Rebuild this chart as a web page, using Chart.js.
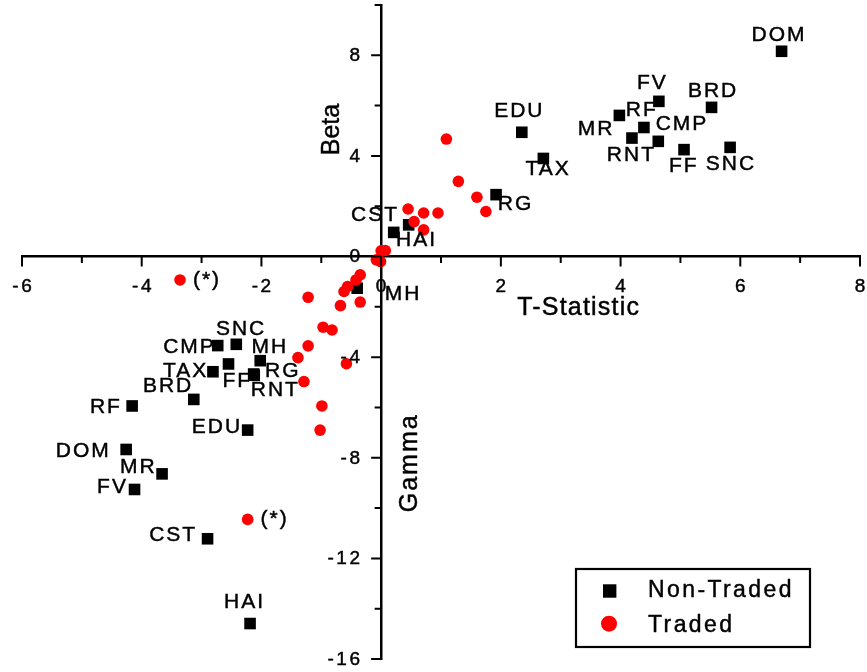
<!DOCTYPE html>
<html>
<head>
<meta charset="utf-8">
<script src="https://cdn.jsdelivr.net/npm/chart.js@4.4.1/dist/chart.umd.min.js"></script>
<style>
html,body{margin:0;padding:0;background:#ffffff;}
#wrap{width:867px;height:672px;position:relative;}
</style>
</head>
<body>
<div id="wrap"><canvas id="c"></canvas></div>
<script>
// ---------------- DATA ----------------
const seriesNames = ['Non-Traded', 'Traded'];

// Non-traded sectors: Beta vs T-statistic
const betaNames  = ['DOM','FV','BRD','EDU','MR','RF','CMP','RNT','FF','SNC','TAX','RG','CST','HAI','MH'];
const betaT      = [6.69, 4.64, 5.52, 2.35, 3.98, 4.39, 4.63, 4.19, 5.06, 5.83, 2.71, 1.92, 0.21, 0.46, -0.40];
const betaValues = [8.16, 6.17, 5.93, 4.94, 5.61, 5.13, 4.58, 4.71, 4.25, 4.34, 3.90, 2.46, 0.96, 1.26, -1.26];

// Non-traded sectors: Gamma vs T-statistic
const gammaNames  = ['CMP','SNC','MH','TAX','FF','RG','RNT','BRD','RF','EDU','DOM','MR','FV','CST','HAI'];
const gammaT      = [-2.73, -2.42, -2.02, -2.81, -2.55, -2.13, -2.12, -3.13, -4.16, -2.23, -4.26, -3.66, -4.12, -2.90, -2.19];
const gammaValues = [-3.54, -3.49, -4.14, -4.58, -4.27, -4.67, -4.72, -5.68, -5.94, -6.90, -7.67, -8.64, -9.26, -11.22, -14.59];

// Traded sectors (beta and gamma estimates)
const tradedT      = [1.09, 1.29, 1.60, 1.75, 0.45, 0.71, 0.95, 0.55, 0.71, 0.00, 0.07, -0.08, -0.01,
                      -0.35, -0.42, -0.56, -0.62, -1.22, -0.68, -0.35, -0.97, -0.82, -1.22, -1.39, -0.58, -1.29, -0.99, -1.02, -3.36, -2.23];
const tradedValues = [4.67, 2.99, 2.36, 1.79, 1.89, 1.73, 1.73, 1.39, 1.06, 0.23, 0.24, -0.13, -0.20,
                      -0.73, -0.93, -1.19, -1.39, -1.62, -1.95, -1.81, -2.81, -2.92, -3.55, -4.02, -4.26, -4.97, -5.94, -6.90, -0.93, -10.45];
const tradedNotes  = ['', '', '', '', '', '', '', '', '', '', '', '', '',
                      '', '', '', '', '', '', '', '', '', '', '', '', '', '', '', '(*)', '(*)'];

const xTickLabels = [-6, -4, -2, 0, 2, 4, 6, 8];
const yTickLabels = [-16, -12, -8, -4, 0, 4, 8];
const xTitle = 'T-Statistic';
const betaTitle = 'Beta';
const gammaTitle = 'Gamma';

// ---------------- STYLE ----------------
const FONT = '"Liberation Sans", Arial, Helvetica, sans-serif';
// label offsets (pixels from marker centre to label centre)
const betaLabelOffsets = [[-3.5,-16],[-7.5,-18.4],[0.5,-16.2],[-3.5,-21.2],[-24.2,13.5],[-3.2,-16.9],[22.7,-16.7],[-1.5,16.9],[-1.2,16.7],[-0.2,17],[3.7,10.5],[18.5,9.8],[-19.7,-17.2],[6.9,15.5],[44.8,6.2]];
const gammaLabelOffsets = [[-29.2,1.5],[3.8,-15.1],[8.5,-13.5],[-28.4,-0.9],[7.7,17.2],[28.1,-3.2],[20.1,15.2],[-26.7,-13.1],[-27.2,0.8],[-31.7,-2.8],[-43.8,1.7],[-24.8,-6.9],[-23,-2.1],[-35.4,-3.5],[-6.5,-21.5]];
const noteOffset = [27, 0];

const nonTradedData = betaT.map((x, i) => ({x: x, y: betaValues[i]}))
  .concat(gammaT.map((x, i) => ({x: x, y: gammaValues[i]})));
const nonTradedLabels = betaNames.concat(gammaNames);
const nonTradedOffsets = betaLabelOffsets.concat(gammaLabelOffsets);
const tradedData = tradedT.map((x, i) => ({x: x, y: tradedValues[i]}));

// fill + hairline stroke to match the heavier text weight of the original
function txt(ctx, s, x, y) {
  ctx.fillText(s, x, y);
  ctx.strokeText(s, x, y);
}

const decoPlugin = {
  id: 'deco',
  afterDatasetsDraw(chart) {
    const ctx = chart.ctx;
    ctx.save();
    ctx.fillStyle = '#000';
    ctx.strokeStyle = '#000';
    ctx.lineWidth = 0.45;
    ctx.font = '21px ' + FONT;
    ctx.letterSpacing = '2px';
    ctx.textAlign = 'center';
    ctx.textBaseline = 'middle';
    chart.getDatasetMeta(0).data.forEach((el, i) => {
      const o = nonTradedOffsets[i];
      txt(ctx, nonTradedLabels[i], el.x + o[0] + 1, el.y + o[1]);
    });
    chart.getDatasetMeta(1).data.forEach((el, i) => {
      if (tradedNotes[i]) txt(ctx, tradedNotes[i], el.x + noteOffset[0], el.y + noteOffset[1]);
    });
    ctx.restore();
  },
  afterDraw(chart) {
    const ctx = chart.ctx;
    const xs = chart.scales.x, ys = chart.scales.y;
    const x0 = xs.getPixelForValue(0), y0 = ys.getPixelForValue(0);
    ctx.save();
    // tick marks (major / minor) from the library's tick list
    ctx.strokeStyle = '#000';
    ctx.lineWidth = 2;
    ctx.beginPath();
    xs.ticks.forEach(t => {
      const px = xs.getPixelForValue(t.value);
      const len = xTickLabels.includes(t.value) ? 10 : 6.5;
      ctx.moveTo(px, y0); ctx.lineTo(px, y0 + len);
    });
    ys.ticks.forEach(t => {
      const py = ys.getPixelForValue(t.value);
      const len = yTickLabels.includes(t.value) ? 10 : 6.5;
      ctx.moveTo(x0, py); ctx.lineTo(x0 - len, py);
    });
    ctx.stroke();

    // tick labels
    ctx.fillStyle = '#000';
    ctx.lineWidth = 0.45;
    ctx.font = '19px ' + FONT;
    ctx.letterSpacing = '2.6px';
    ctx.textBaseline = 'middle';
    ctx.textAlign = 'center';
    xTickLabels.forEach(v => {
      txt(ctx, String(v), xs.getPixelForValue(v) + 1.3, y0 + 30.5);
    });
    ctx.textAlign = 'right';
    yTickLabels.forEach(v => {
      txt(ctx, String(v), x0 - 18.5, ys.getPixelForValue(v) + 0.5);
    });

    // axis titles
    ctx.textAlign = 'center';
    ctx.font = '25px ' + FONT;
    ctx.letterSpacing = '1.2px';
    txt(ctx, xTitle, x0 + 197.5, y0 + 51.5);
    ctx.save();
    ctx.translate(x0 - 49.5, ys.getPixelForValue(5.05));
    ctx.rotate(-Math.PI / 2);
    ctx.letterSpacing = '0px';
    txt(ctx, betaTitle, 0, 0);
    ctx.restore();
    ctx.save();
    ctx.translate(x0 + 29, ys.getPixelForValue(-8.2));
    ctx.rotate(-Math.PI / 2);
    ctx.letterSpacing = '2px';
    txt(ctx, gammaTitle, 0, 0);
    ctx.restore();

    // legend
    const ds = chart.data.datasets;
    const bx = 576, by = 569, bw = 234, bh = 78;
    ctx.lineWidth = 2.2;
    ctx.strokeStyle = '#000';
    ctx.strokeRect(bx, by, bw, bh);
    ctx.fillStyle = ds[0].backgroundColor;
    ctx.fillRect(603, 584.3, 13.4, 13.4);
    ctx.fillStyle = ds[1].backgroundColor;
    ctx.beginPath(); ctx.arc(609, 623.7, 8, 0, Math.PI * 2); ctx.fill();
    ctx.fillStyle = '#000';
    ctx.lineWidth = 0.45;
    ctx.textAlign = 'left';
    ctx.font = '23px ' + FONT;
    ctx.letterSpacing = '2.4px';
    txt(ctx, ds[0].label, 648, 591);
    txt(ctx, ds[1].label, 648, 625.5);
    ctx.restore();
  }
};

new Chart(document.getElementById('c'), {
  type: 'scatter',
  data: {
    datasets: [
      { label: seriesNames[0], data: nonTradedData, pointStyle: 'rect', pointRadius: 8.2,
        backgroundColor: '#000000', borderWidth: 0, order: 1 },
      { label: seriesNames[1], data: tradedData, pointStyle: 'circle', pointRadius: 5.8,
        backgroundColor: '#ff0000', borderWidth: 0, order: 0 }
    ]
  },
  options: {
    responsive: true,
    maintainAspectRatio: false,
    animation: false,
    events: [],
    layout: { autoPadding: false, padding: { left: 22, right: 7, top: 5, bottom: 13 } },
    plugins: { legend: { display: false }, tooltip: { enabled: false }, title: { display: false } },
    scales: {
      x: {
        type: 'linear', min: -6, max: 8, position: { y: 0 },
        ticks: { display: false, stepSize: 1, autoSkip: false, maxRotation: 0, padding: 0 },
        grid: { display: true, drawOnChartArea: false, drawTicks: false },
        border: { display: true, color: '#000', width: 2.5 }
      },
      y: {
        type: 'linear', min: -16, max: 10, position: { x: 0 },
        ticks: { display: false, stepSize: 2, autoSkip: false, padding: 0 },
        grid: { display: true, drawOnChartArea: false, drawTicks: false },
        border: { display: true, color: '#000', width: 2.5 }
      }
    }
  },
  plugins: [decoPlugin]
});
</script>
</body>
</html>
